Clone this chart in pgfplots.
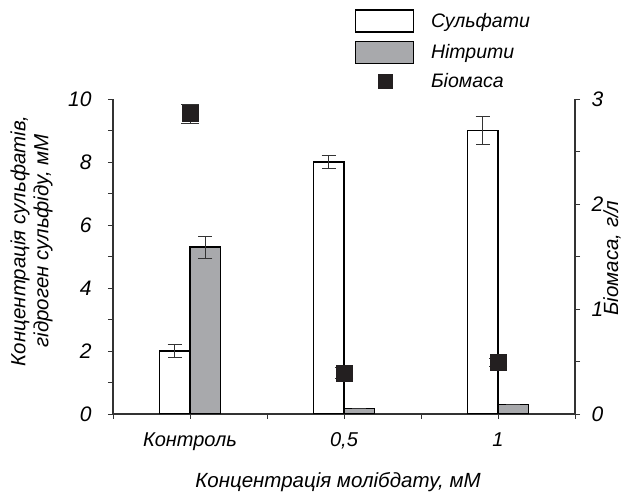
\documentclass[border=0pt]{standalone}
\usepackage{pgfplots}
\pgfplotsset{compat=1.18}
\usepackage{fontspec}
\setmainfont{Liberation Sans}

\definecolor{axisgray}{HTML}{333333}
\definecolor{bargray}{HTML}{A8A9AC}
\definecolor{markblack}{HTML}{231F20}

\pgfplotsset{
  base/.style={
    width=462pt, height=315pt, scale only axis,
    xmin=-0.5, xmax=2.5,
    tick align=outside,
    major tick length=5pt, minor tick length=5pt,
    every tick/.style={axisgray, line width=0.9pt},
    every minor tick/.style={axisgray, line width=0.9pt},
    axis line style={axisgray, line width=1.1pt},
    /pgf/number format/assume math mode=true,
    ticklabel style={font=\itshape\fontsize{21}{23}\selectfont},
    label style={font=\itshape\fontsize{20.5}{23}\selectfont},
  },
  errs/.style={
    error bars/.cd, y dir=both, y explicit,
    error bar style={axisgray, line width=0.9pt},
    error mark options={rotate=90, mark size=#1, axisgray, line width=0.9pt},
  },
}

\begin{document}
\begin{tikzpicture}
\begin{axis}[base, name=main,
    ymin=0, ymax=10,
    axis x line*=bottom, axis y line*=left,
    xtick={0,1,2}, xticklabels={Контроль,{0,5},1},
    minor xtick={-0.5,0.5,1.5,2.5},
    ytick={0,2,4,6,8,10}, minor ytick={1,3,5,7,9},
    xticklabel style={yshift=-10pt, font=\itshape\fontsize{20}{22}\selectfont},
    yticklabel style={xshift=-13pt},
    xlabel={Концентрація молібдату, мМ},
    xlabel style={at={(rel axis cs:0.487,-0.216)}, anchor=center},
    ylabel={Концентрація сульфатів,\\гідроген сульфіду, мМ},
    ylabel style={at={(rel axis cs:-0.176,0.55)}, anchor=center, rotate=0, align=center},
]
% Сульфати
\addplot[ybar, bar width=0.2, bar shift=0, fill=white, draw=black, line width=1.2pt,
    errs=7pt]
  coordinates {(-0.1,2.0) +- (0,0.2) (0.9,8.0) +- (0,0.2) (1.9,9.0) +- (0,0.45)};
% Нітрити
\addplot[ybar, bar width=0.2, bar shift=0, fill=bargray, draw=black, line width=1.2pt,
    errs=7pt]
  coordinates {(0.1,5.3) +- (0,0.35) (1.1,0.18) +- (0,0) (2.1,0.31) +- (0,0)};
\end{axis}

\begin{axis}[base,
    ymin=0, ymax=3,
    axis x line=none, axis y line*=right,
    ytick={0,1,2,3}, minor ytick={0.5,1.5,2.5},
    yticklabel style={xshift=8pt},
    ylabel={Біомаса, г/л},
    ylabel style={at={(rel axis cs:1.08,0.495)}, anchor=center, rotate=0},
    legend style={at={(0.524,1.285)}, anchor=north west, draw=none, fill=none,
      inner sep=0pt, row sep=8pt, font=\itshape\fontsize{19.5}{22}\selectfont},
    legend cell align=left,
]
\addlegendimage{legend image code/.code={\draw[fill=white, draw=black, line width=1.1pt] (0pt,-11pt) rectangle (58pt,11pt); \path (73pt,0pt);}}
\addlegendentry{Сульфати}
\addlegendimage{legend image code/.code={\draw[fill=bargray, draw=black, line width=1.1pt] (0pt,-11pt) rectangle (58pt,11pt); \path (73pt,0pt);}}
\addlegendentry{Нітрити}
% Біомаса
\addplot[only marks, mark=square*, mark size=8pt,
    mark options={fill=markblack, draw=markblack},
    legend image code/.code={\fill[markblack] (22pt,-7pt) rectangle (36pt,7pt); \path (0pt,0pt) (73pt,0pt);},
    errs=9pt]
  coordinates {(0,2.86) +- (0,0.09) (1,0.39) +- (0,0.05) (2,0.49) +- (0,0.04)};
\addlegendentry{Біомаса}
\end{axis}
\path ([xshift=-113pt,yshift=-83pt]main.south west) rectangle ([xshift=65pt,yshift=99pt]main.north east);
\end{tikzpicture}
\end{document}
